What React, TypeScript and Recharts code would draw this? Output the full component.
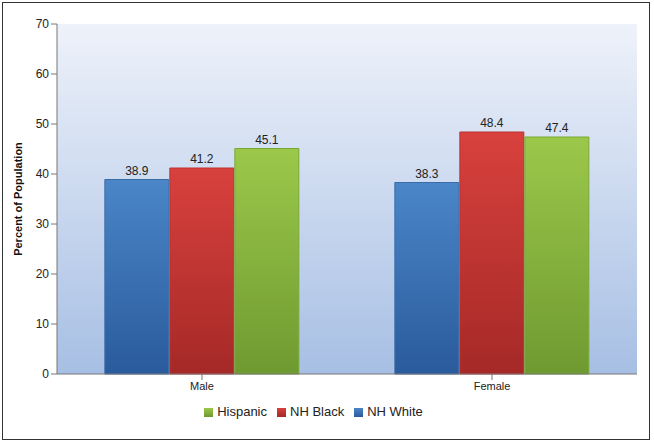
import React from "react";
import { BarChart, Bar, XAxis, YAxis, CartesianGrid, Legend, LabelList } from "recharts";

const categories = ["Male", "Female"];
const nhWhite = [38.9, 38.3];
const nhBlack = [41.2, 48.4];
const hispanic = [45.1, 47.4];
const yTicks = [0, 10, 20, 30, 40, 50, 60, 70];

const data = categories.map((c, i) => ({ name: c, white: nhWhite[i], black: nhBlack[i], hisp: hispanic[i] }));

const font = "'Liberation Sans', Arial, sans-serif";

export default function App() {
  return (
    <div style={{ position: "fixed", left: 0, top: 0, width: 654, height: 443, background: "#fff", fontFamily: font }}>
      <div style={{ position: "absolute", left: 2, top: 2, width: 646, height: 436, border: "1px solid #333" }} />
      <BarChart width={654} height={443} data={data} margin={{ top: 24, right: 17, bottom: 9, left: 0 }} barGap={1} barCategoryGap="16.5%">
        <defs>
          <linearGradient id="bg" x1="0" y1="0" x2="0" y2="1">
            <stop offset="0" stopColor="#eef2fa" />
            <stop offset="1" stopColor="#a7bfe4" />
          </linearGradient>
          <linearGradient id="gb" x1="0" y1="0" x2="0" y2="1">
            <stop offset="0" stopColor="#4a86c8" />
            <stop offset="1" stopColor="#2a5b9c" />
          </linearGradient>
          <linearGradient id="gr" x1="0" y1="0" x2="0" y2="1">
            <stop offset="0" stopColor="#d8413d" />
            <stop offset="1" stopColor="#a52927" />
          </linearGradient>
          <linearGradient id="gg" x1="0" y1="0" x2="0" y2="1">
            <stop offset="0" stopColor="#9bc84a" />
            <stop offset="1" stopColor="#6f9a31" />
          </linearGradient>
        </defs>
        <CartesianGrid horizontal={false} vertical={false} fill="url(#bg)" stroke="#999" />
        <XAxis dataKey="name" height={30} tick={{ fill: "#222", fontSize: 11, fontFamily: font }} stroke="#777" tickLine={{ stroke: "#777" }} />
        <YAxis width={57} domain={[0, 70]} ticks={yTicks} tick={{ fill: "#222", fontSize: 12, fontFamily: font }} stroke="#777"
          label={{ value: "Percent of Population", angle: -90, position: "insideLeft", offset: 18, style: { textAnchor: "middle", fontWeight: "bold", fontSize: 11, fill: "#111", fontFamily: font } }} />
        <Legend verticalAlign="bottom" height={30} iconType="square" iconSize={9}
          wrapperStyle={{ fontSize: 13, color: "#222", fontFamily: font }}
          payload={[
            { value: "NH White", type: "square", color: "#3f79bd", id: "a" },
            { value: "NH Black", type: "square", color: "#c83532", id: "b" },
            { value: "Hispanic", type: "square", color: "#8cb83f", id: "c" },
          ]}
          formatter={(v: string) => <span style={{ color: "#222" }}>{v}</span>} />
        <Bar dataKey="white" name="NH White" fill="url(#gb)" stroke="#3a6ca8" isAnimationActive={false}>
          <LabelList dataKey="white" position="top" style={{ fontSize: 12, fill: "#222", fontFamily: font }} />
        </Bar>
        <Bar dataKey="black" name="NH Black" fill="url(#gr)" stroke="#b33" isAnimationActive={false}>
          <LabelList dataKey="black" position="top" style={{ fontSize: 12, fill: "#222", fontFamily: font }} />
        </Bar>
        <Bar dataKey="hisp" name="Hispanic" fill="url(#gg)" stroke="#7a3" isAnimationActive={false}>
          <LabelList dataKey="hisp" position="top" style={{ fontSize: 12, fill: "#222", fontFamily: font }} />
        </Bar>
      </BarChart>
    </div>
  );
}
